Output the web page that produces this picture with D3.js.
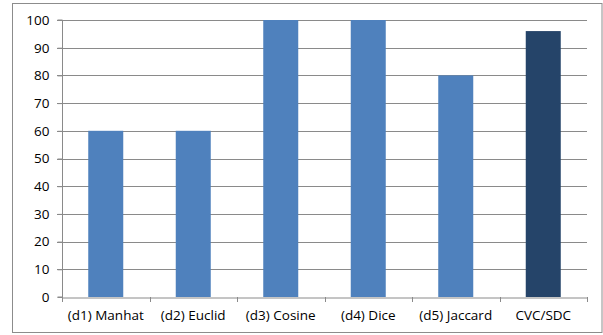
<!DOCTYPE html>
<html>
<head>
<meta charset="utf-8">
<script src="https://cdn.jsdelivr.net/npm/d3@7"></script>
<style>
  body { margin: 0; background: #fff; }
  svg { display: block; }
</style>
</head>
<body>
<div id="chart"></div>
<script>
// categorias y valores
const categories = ["(d1) Manhat", "(d2) Euclid", "(d3) Cosine", "(d4) Dice", "(d5) Jaccard", "CVC/SDC"];
const values = [60, 60, 100, 100, 80, 96];
const barColors = ["#4f81bd", "#4f81bd", "#4f81bd", "#4f81bd", "#4f81bd", "#254469"];
const yTicks = [0, 10, 20, 30, 40, 50, 60, 70, 80, 90, 100];

const width = 603, height = 335;
const margin = { top: 20, right: 16, bottom: 38, left: 62 };

const svg = d3.select("#chart").append("svg")
    .attr("width", width)
    .attr("height", height);

// marco exterior
svg.append("rect")
    .attr("x", 12.5).attr("y", 3.5)
    .attr("width", width - 13.5).attr("height", 329)
    .attr("fill", "none")
    .attr("stroke", "#8c8c8c")
    .attr("stroke-width", 1);

const x = d3.scaleBand()
    .domain(categories)
    .range([margin.left, width - margin.right])
    .paddingInner(0.6)
    .paddingOuter(0.3);

const xTicks = d3.scaleBand()
    .domain(categories)
    .range([margin.left, width - margin.right]);

const y = d3.scaleLinear()
    .domain([0, 100])
    .range([height - margin.bottom, margin.top]);

// lineas de cuadricula
svg.append("g")
    .selectAll("line")
    .data(yTicks.filter(d => d > 0))
    .enter().append("line")
    .attr("x1", margin.left - 5)
    .attr("x2", width - margin.right)
    .attr("y1", d => Math.round(y(d)) + 0.5)
    .attr("y2", d => Math.round(y(d)) + 0.5)
    .attr("stroke", "#8a8a8a")
    .attr("stroke-width", 1);

// barras
svg.append("g")
    .selectAll("rect")
    .data(values)
    .enter().append("rect")
    .attr("x", (d, i) => x(categories[i]))
    .attr("y", d => y(d))
    .attr("width", x.bandwidth())
    .attr("height", d => y(0) - y(d))
    .attr("fill", (d, i) => barColors[i]);

// eje y
const yAxis = svg.append("g")
    .attr("transform", `translate(${margin.left + 0.5},0)`)
    .call(d3.axisLeft(y).tickValues(yTicks).tickSize(5).tickPadding(8));
yAxis.select(".domain").attr("stroke", "#8a8a8a").attr("d", `M-5,${y(0)}H0V${y(100)}H-5`);
yAxis.selectAll(".tick line").attr("stroke", "#8a8a8a");
yAxis.selectAll("text")
    .attr("fill", "#000")
    .style("font-family", "'Open Sans', sans-serif")
    .style("font-size", "13.5px");

// eje x
const xAxis = svg.append("g")
    .attr("transform", `translate(0,${Math.round(y(0)) + 0.5})`)
    .call(d3.axisBottom(xTicks).tickSize(0).tickPadding(13));
xAxis.select(".domain").attr("stroke", "#8a8a8a");
xAxis.selectAll("text")
    .attr("fill", "#000")
    .style("font-family", "'Open Sans', sans-serif")
    .style("font-size", "13.5px");

// marcas del eje x entre categorias
svg.append("g")
    .selectAll("line")
    .data(categories.map(c => xTicks(c)).concat([width - margin.right]))
    .enter().append("line")
    .attr("x1", d => Math.round(d) + 0.5)
    .attr("x2", d => Math.round(d) + 0.5)
    .attr("y1", y(0))
    .attr("y2", y(0) + 5)
    .attr("stroke", "#8a8a8a");
</script>
</body>
</html>
